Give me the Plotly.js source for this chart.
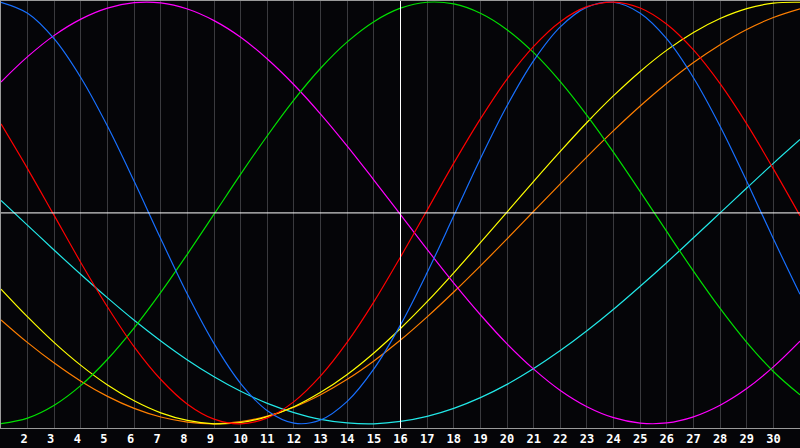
<!DOCTYPE html>
<html>
<head>
<meta charset="utf-8">
<script src="https://cdn.plot.ly/plotly-3.0.1.min.js"></script>
<style>
  html, body { margin: 0; padding: 0; background: #050508; }
  #chart { width: 800px; height: 448px; }
</style>
</head>
<body>
<div id="chart"></div>
<script>
// Tage des Monats
const days = [1,2,3,4,5,6,7,8,9,10,11,12,13,14,15,16,17,18,19,20,21,22,23,24,25,26,27,28,29,30,31];
const tickDays = [2,3,4,5,6,7,8,9,10,11,12,13,14,15,16,17,18,19,20,21,22,23,24,25,26,27,28,29,30];
const todayDay = 16;

// Kurvenwerte (in %)
const physical     = [99.9,94.7,82.5,64.1,41.1,15.0,-12.3,-38.6,-62.0,-80.9,-93.8,-99.7,-98.2,-89.4,-74.0,-53.1,-28.3,-1.4,25.7,50.8,72.2,88.2,97.6,99.9,94.7,82.5,64.1,41.1,15.0,-12.3,-38.6];
const emotional    = [42.2,20.9,-1.3,-23.6,-44.6,-63.5,-79.0,-90.7,-97.8,-100.0,-97.2,-89.5,-77.3,-61.3,-42.2,-20.9,1.3,23.6,44.6,63.5,79.0,90.7,97.8,100.0,97.2,89.5,77.3,61.3,42.2,20.9,-1.3];
const intellectual = [-99.9,-97.3,-91.2,-81.8,-69.4,-54.5,-37.7,-19.5,-0.6,18.4,36.6,53.6,68.6,81.1,90.7,97.1,99.9,99.1,94.7,86.9,76.0,62.3,46.3,28.7,10.1,-8.9,-27.6,-45.3,-61.4,-75.2,-86.3];
const intuitive    = [62.1,74.1,84.2,91.9,97.1,99.7,99.6,96.7,91.2,83.3,73.0,60.8,46.9,31.7,15.6,-0.8,-17.3,-33.3,-48.3,-62.1,-74.1,-84.2,-91.9,-97.1,-99.7,-99.6,-96.7,-91.2,-83.3,-73.0,-60.8];
const aesthetic    = [-36.1,-49.3,-61.5,-72.3,-81.6,-89.1,-94.8,-98.4,-100.0,-99.4,-96.6,-91.9,-85.1,-76.6,-66.4,-54.8,-42.1,-28.4,-14.1,0.4,15.0,29.2,42.9,55.6,67.1,77.2,85.6,92.2,96.9,99.5,99.9];
const awareness    = [-50.7,-61.5,-71.2,-79.8,-87.0,-92.7,-96.8,-99.2,-100.0,-99.0,-96.4,-92.1,-86.2,-78.9,-70.2,-60.3,-49.3,-37.5,-25.1,-12.3,0.8,13.8,26.6,39.0,50.7,61.5,71.3,79.8,87.0,92.7,96.8];
const spiritual    = [5.9,-5.9,-17.7,-29.2,-40.3,-50.9,-60.7,-69.7,-77.7,-84.6,-90.3,-94.7,-97.9,-99.6,-100.0,-98.9,-96.5,-92.7,-87.6,-81.3,-73.8,-65.3,-55.9,-45.7,-34.8,-23.5,-11.8,0.0,11.8,23.5,34.8];

function curve(y, color, name) {
  return {
    x: days, y: y,
    mode: 'lines',
    name: name,
    line: { color: color, width: 1.2, shape: 'spline', smoothing: 1 },
    hoverinfo: 'skip'
  };
}

const traces = [
  curve(spiritual, '#22e8e8', 'Spirituell'),
  curve(awareness, '#ff7f00', 'Bewusstsein'),
  curve(aesthetic, '#ffff00', 'Ästhetik'),
  curve(intuitive, '#ff00ff', 'Intuition'),
  curve(intellectual, '#00e000', 'Intellekt'),
  curve(physical, '#1870ff', 'Körper'),
  curve(emotional, '#ff0000', 'Gefühl')
];

// einstellige Zahlen etwas nach links schieben (wie im Original)
const tickText = tickDays.map(d => d < 10 ? d + '\u00a0' : String(d));

const layout = {
  width: 800,
  height: 448,
  paper_bgcolor: '#050508',
  plot_bgcolor: '#050508',
  margin: { l: 1, r: 0, t: 1, b: 20 },
  showlegend: false,
  xaxis: {
    range: [1, 31],
    tickmode: 'array',
    tickvals: tickDays,
    ticktext: tickText,
    ticks: '',
    showgrid: true,
    gridcolor: '#3a3a3e',
    gridwidth: 1,
    zeroline: false,
    showline: true,
    mirror: true,
    linecolor: '#9a9a9a',
    linewidth: 1,
    tickfont: { family: 'DejaVu Sans Mono', size: 12, color: '#ffffff', weight: 'bold' },
    fixedrange: true
  },
  yaxis: {
    range: [-102, 100.5],
    showgrid: false,
    showticklabels: false,
    ticks: '',
    zeroline: false,
    showline: true,
    linecolor: '#9a9a9a',
    linewidth: 1,
    fixedrange: true
  },
  shapes: [
    {
      type: 'line',
      xref: 'x', yref: 'paper',
      x0: todayDay, x1: todayDay, y0: 0, y1: 1,
      line: { color: '#ffffff', width: 1 },
      layer: 'above'
    },
    {
      type: 'line',
      xref: 'paper', yref: 'y',
      x0: 0, x1: 1, y0: 0, y1: 0,
      line: { color: '#ffffff', width: 1 },
      layer: 'above'
    }
  ]
};

Plotly.newPlot('chart', traces, layout, { displayModeBar: false, staticPlot: true });
</script>
</body>
</html>
